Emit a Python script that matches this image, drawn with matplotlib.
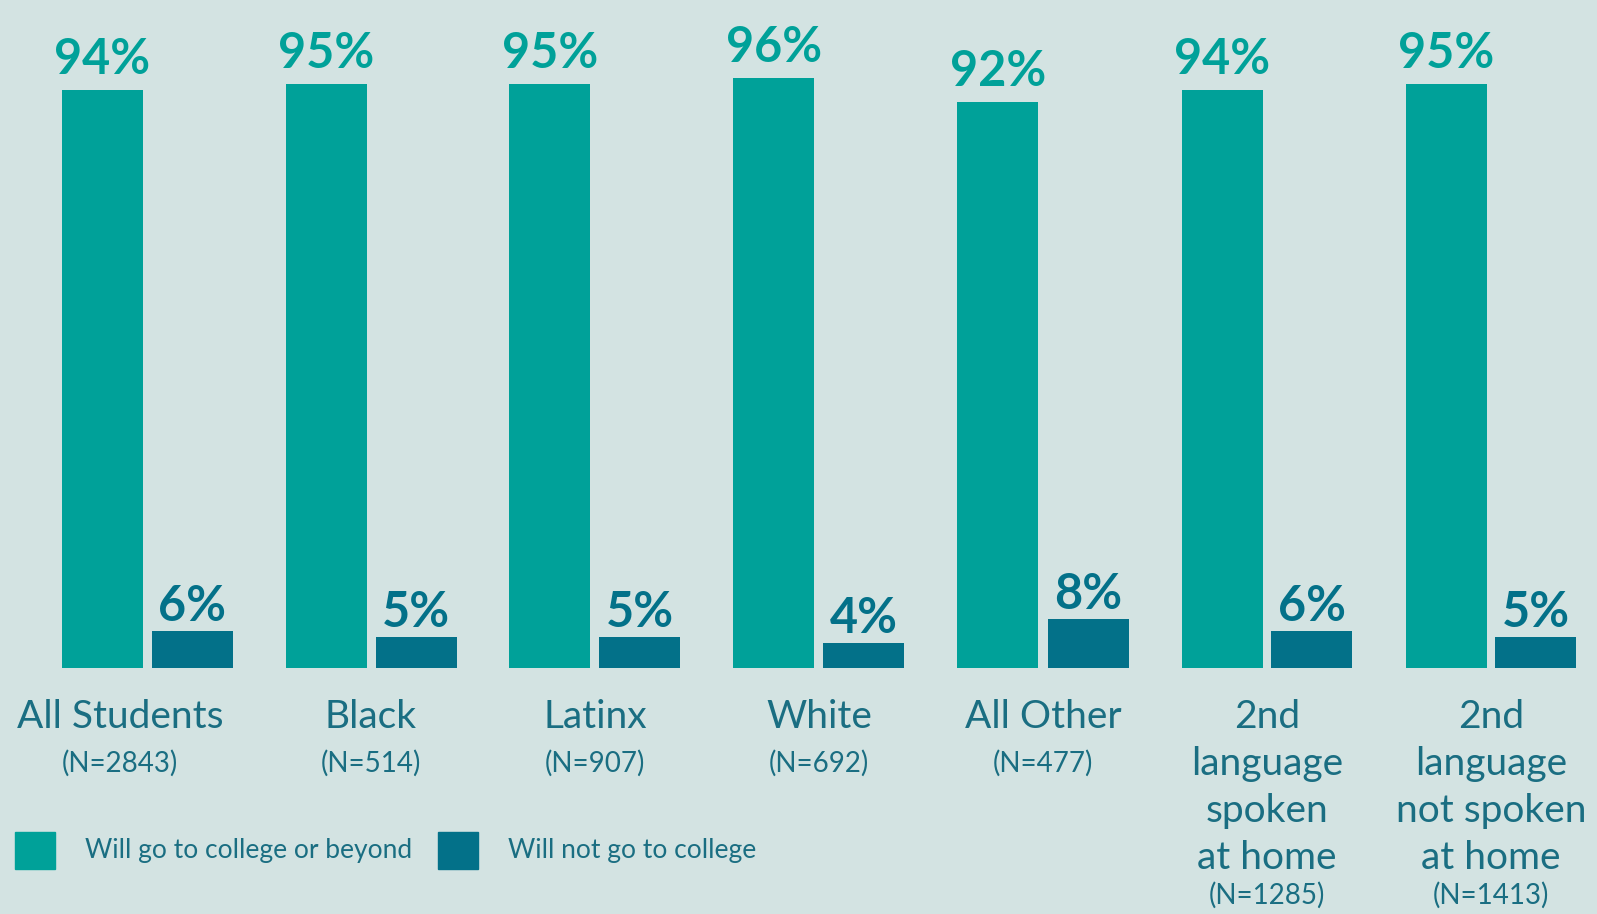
import matplotlib
matplotlib.use("Agg")
import matplotlib.pyplot as plt
from matplotlib.patches import Rectangle
from matplotlib.transforms import blended_transform_factory

# --- data ---
categories = ["All Students", "Black", "Latinx", "White", "All Other",
              "2nd\nlanguage\nspoken\nat home", "2nd\nlanguage\nnot spoken\nat home"]
n_labels = ["(N=2843)", "(N=514)", "(N=907)", "(N=692)", "(N=477)", "(N=1285)", "(N=1413)"]
will_go = [94, 95, 95, 96, 92, 94, 95]
will_not = [6, 5, 5, 4, 8, 6, 5]
legend_labels = ["Will go to college or beyond", "Will not go to college"]

# --- style ---
BG = "#D3E3E2"
TEAL = "#00A199"
DARK = "#037189"
TEXT = "#1A6E82"
W, H = 1597, 914
GROUP = 224.0       # px between groups
BAR = 81 / GROUP
OFF = 45 / GROUP
PX_PER = 6.15       # px per percent
BASE = 668          # baseline, px from top
LINE = 47           # label line step, px

FONT = ["Lato", "DejaVu Sans"]

fig = plt.figure(figsize=(W / 100, H / 100), dpi=100, facecolor=BG)
ax = fig.add_axes([0, 0, 1, 1])
ax.set_facecolor(BG)
ax.set_xlim(-147 / GROUP, (W - 147) / GROUP)
ax.set_ylim(-(H - BASE) / PX_PER, BASE / PX_PER)
ax.axis("off")

x = list(range(len(categories)))
ax.bar([i - OFF for i in x], will_go, width=BAR, color=TEAL)
ax.bar([i + OFF for i in x], will_not, width=BAR, color=DARK)

for i in x:
    ax.annotate(f"{will_go[i]}%", (i - OFF, will_go[i]), xytext=(0, 16), textcoords="offset pixels",
                ha="center", va="baseline", fontsize=35, fontweight="bold", color=TEAL, family=FONT)
    ax.annotate(f"{will_not[i]}%", (i + OFF, will_not[i]), xytext=(0, 10), textcoords="offset pixels",
                ha="center", va="baseline", fontsize=35, fontweight="bold", color=DARK, family=FONT)

# category labels (first one nudged left to stay inside the image)
trans = blended_transform_factory(ax.transData, fig.transFigure)
nudge = {0: -27 / GROUP}
for i, (name, nl) in enumerate(zip(categories, n_labels)):
    cx = i + nudge.get(i, 0)
    lines = name.split("\n")
    for k, line in enumerate(lines):
        ax.text(cx, 1 - (728 + LINE * k) / H, line, transform=trans, ha="center", va="baseline",
                fontsize=28, color=TEXT, family=FONT)
    ny = min(728 + LINE * (len(lines) - 1) + 44, H - 10)
    ax.text(cx, 1 - ny / H, nl, transform=trans, ha="center", va="baseline",
            fontsize=20, color=TEXT, family=FONT)

# legend
for (sx, tx), col, lab in zip([(15, 85), (438, 508)], [TEAL, DARK], legend_labels):
    fig.add_artist(Rectangle((sx / W, 1 - 869 / H), 40 / W, 37 / H,
                             transform=fig.transFigure, color=col))
    fig.text(tx / W, 1 - 858 / H, lab, ha="left", va="baseline",
             fontsize=19, color=TEXT, family=FONT)

fig.savefig("out.png", dpi=100, facecolor=BG)
